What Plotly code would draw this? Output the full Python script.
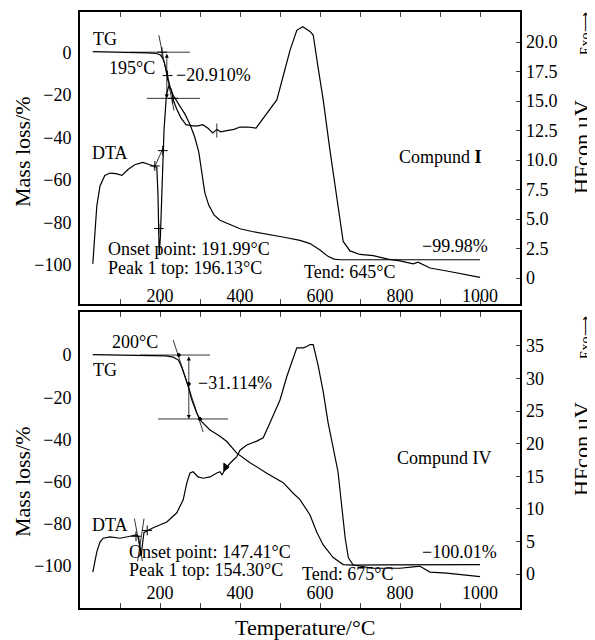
import plotly.graph_objects as go

# ---------------- data ----------------
# Compound I : TG (mass loss %, left axis)
tg1_T = [32, 80, 130, 170, 190, 200, 206, 211, 216, 221,
         226, 232, 240, 250, 262, 275, 287, 297, 305, 312,
         322, 335, 350, 375, 400, 430, 470, 510, 550, 575,
         600, 620, 635, 650, 700, 800, 900, 1000]
tg1_L = [0.3, 0.2, 0, -0.3, -0.6, -1.2, -2.5, -5, -9, -13,
         -17, -20, -22.5, -25, -29, -34, -40, -47, -56, -66,
         -72, -76.5, -79, -81, -83, -84.3, -85.5, -87, -88.5, -90,
         -93, -96, -97.3, -97.6, -97.6, -97.6, -97.6, -97.6]
# Compound I : DTA (HFcon µV, right axis)
dta1_T = [32, 37, 42, 50, 62, 75, 90, 105, 120, 137,
          157, 175, 185, 192, 195, 198, 201, 205, 210, 216,
          222, 228, 234, 242, 252, 265, 282, 295, 307, 320,
          332, 342, 352, 367, 385, 400, 420, 440, 467, 492,
          507, 525, 542, 557, 575, 583, 595, 608, 625, 642,
          658, 675, 700, 733, 770, 800, 833, 845, 855, 875,
          917, 958, 1000]
dta1_R = [1.2, 3.6, 6.1, 7.8, 8.7, 8.9, 8.85, 8.7, 9.2, 9.6,
          9.8, 9.6, 9.5, 9.4, 7.0, 2.0, 3.5, 8.0, 12.5, 15.5,
          16.3, 16.0, 15.0, 14.3, 13.6, 13.0, 12.9, 12.9, 13.0, 12.7,
          12.3, 12.6, 12.4, 12.5, 12.6, 12.8, 12.8, 12.7, 14.0, 15.1,
          17.0, 19.3, 21.0, 21.3, 20.9, 20.6, 17.9, 15.1, 10.8, 6.6,
          3.1, 2.3, 2.0, 1.9, 1.6, 1.45, 1.2, 1.35, 1.2, 0.85,
          0.6, 0.34, 0.05]

# Compound IV : TG
tg4_T = [32, 100, 150, 200, 215, 233, 246, 254, 262, 271,
         279, 292, 304, 325, 350, 367, 392, 425, 467, 508,
         533, 550, 575, 592, 608, 633, 658, 683, 750, 850,
         1000]
tg4_L = [0.2, 0.1, 0, -0.2, -0.4, -1.0, -2.4, -5.6, -10.4, -15.0,
         -21.0, -27.6, -31.6, -35.5, -38.5, -41, -46.5, -51, -56, -60.5,
         -65.5, -68.5, -75.8, -84, -90, -96, -99.3, -99.6, -99.5, -99.4,
         -99.3]
# Compound IV : DTA
dta4_T = [32, 42, 50, 58, 75, 100, 125, 140, 146, 150,
          153, 156, 160, 183, 217, 242, 258, 267, 275, 283,
          295, 308, 325, 342, 350, 355, 362, 375, 392, 400,
          417, 442, 458, 475, 500, 517, 533, 542, 558, 567,
          575, 583, 595, 608, 620, 633, 645, 654, 663, 671,
          683, 733, 800, 833, 850, 875, 917, 1000]
dta4_R = [0.3, 3.4, 4.9, 5.5, 5.7, 5.5, 5.8, 6.0, 5.8, 4.0,
          2.8, 4.5, 6.4, 7.1, 8.0, 9.4, 11.4, 14.0, 15.5, 15.7,
          14.9, 14.7, 14.9, 15.5, 15.7, 15.2, 16.0, 17.0, 18.0, 19.0,
          19.8, 20.4, 20.9, 23.2, 26.7, 30.3, 33.3, 34.7, 34.7, 34.9,
          35.2, 35.2, 32.1, 28.0, 23.3, 19.4, 15.7, 10.6, 5.5, 2.5,
          1.4, 0.9, 0.9, 1.1, 1.2, 0.3, 0.15, -0.4]

# construction lines of the TG step evaluation (data units)
c1_base_T, c1_base_L = [125, 275], [0, 0]
c1_low_T, c1_low_L = [167, 300], [-21.7, -21.7]
c1_tan_T, c1_tan_L = [197, 235], [8, -27.4]
c1_pts_T, c1_pts_L = [205, 219, 232], [0, -11, -21.7]
c4_base_T, c4_base_L = [150, 325], [0, 0]
c4_low_T, c4_low_L = [195, 370], [-30.3, -30.3]
c4_tan_T, c4_tan_L = [233, 308], [7.1, -36.5]
c4_pts_T, c4_pts_L = [247, 272, 300], [0, -13.7, -30.3]
# DTA onset marks
d1_tan_T, d1_tan_R = [185, 210], [9.3, 11.2]
d1_pts_T, d1_pts_R = [187, 207, 197], [9.5, 10.8, 4.2]
d1_tick_T, d1_tick_R = [342, 342], [11.9, 13.1]
d4_tanA_T, d4_tanA_R = [136, 156], [8.5, 2.0]
d4_tanB_T, d4_tanB_R = [160, 144], [8.5, 2.0]
d4_pts_T, d4_pts_R = [140, 168], [5.8, 6.7]
d4_tri_T, d4_tri_R = [364], [16.4]

x_ticks = [100, 200, 300, 400, 500, 600, 700, 800, 900, 1000]
x_text = ["", "200", "", "400", "", "600", "", "800", "", "1000"]
yl_ticks = [0, -20, -40, -60, -80, -100]
yr1_ticks = [0, 2.5, 5, 7.5, 10, 12.5, 15, 17.5, 20]
yr1_text = ["0", "2.5", "5.0", "7.5", "10.0", "12.5", "15.0", "17.5", "20.0"]
yr4_ticks = [0, 5, 10, 15, 20, 25, 30, 35]

FONT = "Liberation Serif"
LW = 1.2
W, H = 587, 632          # the page adds an 8 px body margin
fig = go.Figure()

def line(x, y, xa, ya, w=LW, mode="lines", sym=None, size=7):
    fig.add_trace(go.Scatter(x=x, y=y, xaxis=xa, yaxis=ya, mode=mode,
                             line=dict(color="black", width=w),
                             marker=dict(symbol=sym or "cross-thin", size=size,
                                         color="black", line=dict(color="black", width=1)),
                             hoverinfo="skip", showlegend=False))

# top panel
line(tg1_T, tg1_L, "x", "y")
line(dta1_T, dta1_R, "x", "y2")
line(c1_base_T, c1_base_L, "x", "y", w=0.8)
line(c1_low_T, c1_low_L, "x", "y", w=0.8)
line(c1_tan_T, c1_tan_L, "x", "y", w=0.8)
line(c1_pts_T, c1_pts_L, "x", "y", mode="markers")
line(d1_tan_T, d1_tan_R, "x", "y2", w=0.8)
line(d1_pts_T, d1_pts_R, "x", "y2", mode="markers")
line(d1_tick_T, d1_tick_R, "x", "y2", w=0.8)
# bottom panel
line(tg4_T, tg4_L, "x2", "y3")
line(dta4_T, dta4_R, "x2", "y4")
line(c4_base_T, c4_base_L, "x2", "y3", w=0.8)
line(c4_low_T, c4_low_L, "x2", "y3", w=0.8)
line(c4_tan_T, c4_tan_L, "x2", "y3", w=0.8)
line(c4_pts_T, c4_pts_L, "x2", "y3", mode="markers", sym="circle", size=3)
line(d4_tanA_T, d4_tanA_R, "x2", "y4", w=0.8)
line(d4_tanB_T, d4_tanB_R, "x2", "y4", w=0.8)
line(d4_pts_T, d4_pts_R, "x2", "y4", mode="markers")
line(d4_tri_T, d4_tri_R, "x2", "y4", mode="markers", sym="triangle-right", size=7)

tickfont = dict(family=FONT, size=18, color="black")
xcommon = dict(range=[0, 1100], tickvals=x_ticks, ticktext=x_text, ticks="inside",
               ticklen=5, tickwidth=1.2, showline=True,
               linewidth=2, linecolor="black", mirror="ticks", showgrid=False,
               zeroline=False, tickfont=tickfont, domain=[0, 1])
ylcommon = dict(tickvals=yl_ticks, ticks="", showline=True, linewidth=2,
                linecolor="black", mirror=True, showgrid=False, zeroline=False,
                tickfont=tickfont, ticklabelstandoff=3)
yrcommon = dict(side="right", ticks="inside", ticklen=4, tickwidth=1.2, showline=False,
                showgrid=False, zeroline=False, tickfont=tickfont, ticklabelstandoff=5)

top_dom = [1 - 296 / H, 1 - 4 / H]
bot_dom = [1 - 600 / H, 1 - 304 / H]
fig.update_layout(
    width=W, height=H, margin=dict(l=72, r=75, t=0, b=0),
    paper_bgcolor="white", plot_bgcolor="white",
    font=dict(family=FONT, color="black"),
    xaxis=dict(anchor="y", ticklabelstandoff=-26, **xcommon),
    yaxis=dict(anchor="x", domain=top_dom, range=[-118.4, 18.9], **ylcommon),
    yaxis2=dict(anchor="x", overlaying="y", range=[-2.2, 22.55], tickvals=yr1_ticks,
                ticktext=yr1_text, **yrcommon),
    xaxis2=dict(anchor="y3", ticklabelstandoff=-33, **xcommon),
    yaxis3=dict(anchor="x2", domain=bot_dom, range=[-119.9, 20.4], **ylcommon),
    yaxis4=dict(anchor="x2", overlaying="y3", range=[-5.2, 40.2], tickvals=yr4_ticks, **yrcommon),
)

def txt(s, x, y, xr, yr, xa="left", size=18):
    fig.add_annotation(text=s, x=x, y=y, xref=xr, yref=yr, xanchor=xa, yanchor="middle",
                       showarrow=False, font=dict(family=FONT, size=size, color="black"))

# top panel texts
txt("TG", 62, 6.1, "x", "y", xa="center")
txt("DTA", 75, -47.2, "x", "y", xa="center")
txt("195°C", 192, -7.5, "x", "y", xa="right")
txt("−20.910%", 236, -10.8, "x", "y")
txt("Onset point: 191.99°C", 66, -92.5, "x", "y")
txt("Peak 1 top: 196.13°C", 66, -101.4, "x", "y")
txt("Tend: 645°C", 554, -103.3, "x", "y")
txt("−99.98%", 850, -91, "x", "y")
txt("Compund <b>I</b>", 792, -49.5, "x", "y")
# bottom panel texts
txt("200°C", 137, 6.2, "x2", "y3", xa="center")
txt("TG", 62, -7.1, "x2", "y3", xa="center")
txt("−31.114%", 290, -13.3, "x2", "y3")
txt("DTA", 75, -80.6, "x2", "y3", xa="center")
txt("Onset point: 147.41°C", 117, -93.4, "x2", "y3")
txt("Peak 1 top: 154.30°C", 117, -101.9, "x2", "y3")
txt("Tend: 675°C", 550, -103.8, "x2", "y3")
txt("−100.01%", 850, -93.4, "x2", "y3")
txt("Compund IV", 787, -48.8, "x2", "y3")

# double arrows of the step height
for (xr, yr, xv, y0, y1) in [("x", "y", 217, 0, -21.7), ("x2", "y3", 272, 0, -30.3)]:
    fig.add_annotation(x=xv, y=y1, ax=xv, ay=y0, xref=xr, yref=yr, axref=xr, ayref=yr,
                       text="", showarrow=True, arrowhead=2, arrowside="end+start",
                       arrowsize=1, arrowwidth=0.8, arrowcolor="black")

# axis titles (paper coordinates, figure pixels)
def title(s, px, py, size=22, rot=-90):
    fig.add_annotation(text=s, x=(px - 72) / 440, y=1 - py / H, xref="paper", yref="paper",
                       xanchor="center", yanchor="middle", showarrow=False, textangle=rot,
                       font=dict(family=FONT, size=size, color="black"))

title("Mass loss/%", 14, 144)
title("Mass loss/%", 14, 474)
title("HFcon µV", 573, 139)
title("HFcon µV", 573, 441)
title("Exo⟶", 577, 26, size=14)
title("Exo⟶", 577, 330, size=14)
title("Temperature/°C", 297, 619, rot=0)

fig.write_html("out.html")
